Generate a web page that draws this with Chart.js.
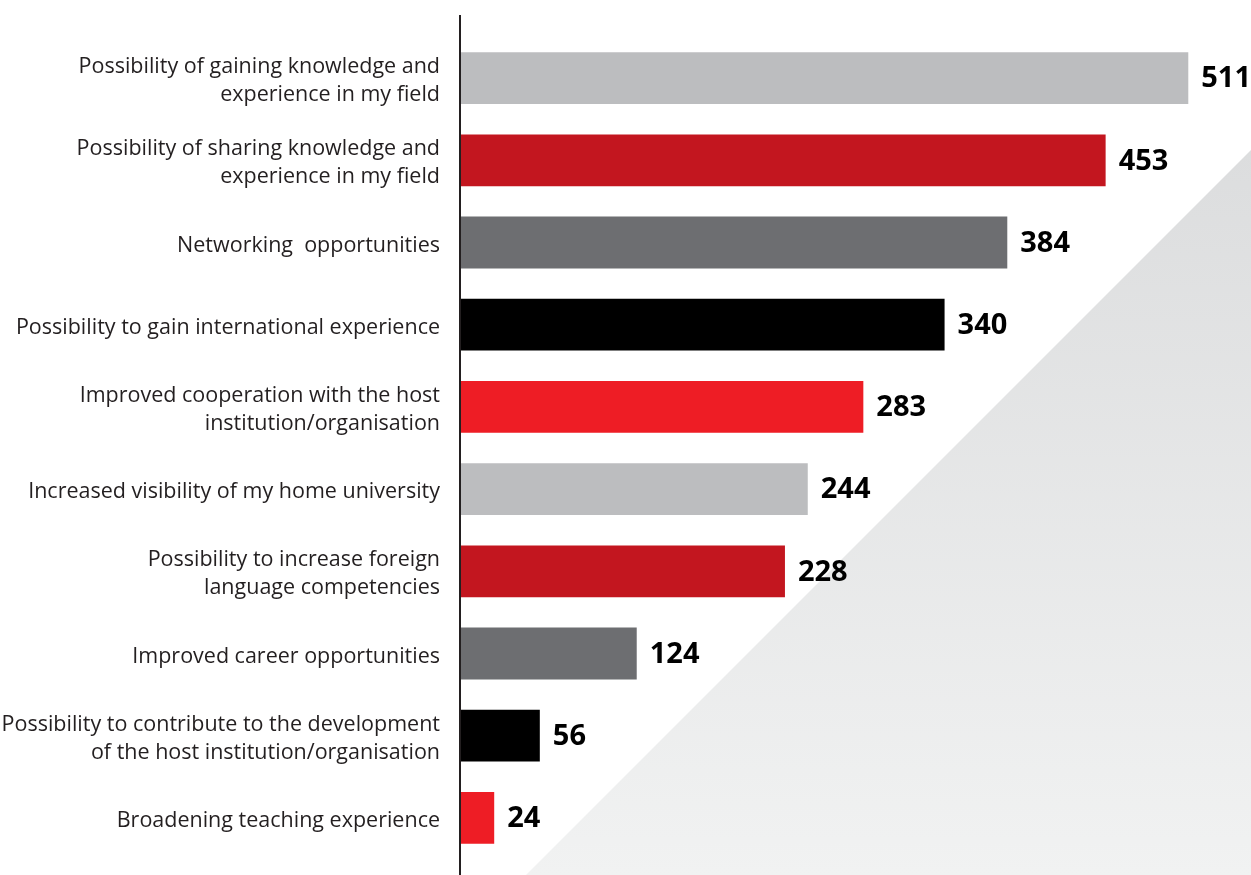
<!DOCTYPE html>
<html lang="en">
<head>
    <meta charset="UTF-8">
    <title>Motivations</title>
    <script src="https://cdn.jsdelivr.net/npm/chart.js"></script>
    <style>
        html, body {
            margin: 0;
            padding: 0;
            background: #ffffff;
        }
        #wrap {
            width: 1251px;
            height: 875px;
            position: relative;
        }
    </style>
</head>
<body>
    <div id="wrap">
        <canvas id="grafico"></canvas>
    </div>

    <script>
        const categorias = [
            ["Possibility of gaining knowledge and", "experience in my field"],
            ["Possibility of sharing knowledge and", "experience in my field"],
            "Networking  opportunities",
            "Possibility to gain international experience",
            ["Improved cooperation with the host", "institution/organisation"],
            "Increased visibility of my home university",
            ["Possibility to increase foreign", "language competencies"],
            "Improved career opportunities",
            ["Possibility to contribute to the development", "of the host institution/organisation"],
            "Broadening teaching experience"
        ];

        const valores = [511, 453, 384, 340, 283, 244, 228, 124, 56, 24];

        const colores = [
            '#bcbdbf', '#c3161f', '#6d6e71', '#000000', '#ee1d25',
            '#bcbdbf', '#c3161f', '#6d6e71', '#000000', '#ee1d25'
        ];

        // fondo: triangulo gris abajo a la derecha
        const fondoTriangulo = {
            id: 'fondoTriangulo',
            beforeDraw(chart) {
                const c = chart.ctx;
                const w = chart.width, h = chart.height;
                const g = c.createLinearGradient(0, 150, 0, h);
                g.addColorStop(0, '#dcddde');
                g.addColorStop(1, '#f1f2f2');
                c.save();
                c.fillStyle = g;
                c.beginPath();
                c.moveTo(w, 150);
                c.lineTo(w, h);
                c.lineTo(w - (h - 150), h);
                c.closePath();
                c.fill();
                c.restore();
            }
        };

        // linea del eje vertical, mas larga que el area
        const lineaEje = {
            id: 'lineaEje',
            afterDatasetsDraw(chart) {
                const c = chart.ctx;
                const x = chart.chartArea.left;
                c.save();
                c.strokeStyle = '#231f20';
                c.lineWidth = 2;
                c.beginPath();
                c.moveTo(x, 15);
                c.lineTo(x, chart.height);
                c.stroke();
                c.restore();
            }
        };

        // valores al final de cada barra
        const etiquetas = {
            id: 'etiquetas',
            afterDatasetsDraw(chart) {
                const c = chart.ctx;
                const meta = chart.getDatasetMeta(0);
                c.save();
                c.fillStyle = '#000000';
                c.font = 'bold 29px "Open Sans", sans-serif';
                c.textAlign = 'left';
                c.textBaseline = 'middle';
                meta.data.forEach((bar, i) => {
                    c.fillText(valores[i], bar.x + 13, bar.y + 1);
                });
                c.restore();
            }
        };

        const ctx = document.getElementById('grafico').getContext('2d');

        new Chart(ctx, {
            type: 'bar',
            data: {
                labels: categorias,
                datasets: [{
                    data: valores,
                    backgroundColor: colores,
                    borderWidth: 0,
                    barPercentage: 0.63,
                    categoryPercentage: 1
                }]
            },
            options: {
                indexAxis: 'y',
                responsive: true,
                maintainAspectRatio: false,
                animation: false,
                layout: {
                    padding: { top: 37, bottom: 16, left: 0, right: 0 }
                },
                scales: {
                    x: {
                        display: false,
                        min: 0,
                        max: 555
                    },
                    y: {
                        afterFit(scale) {
                            scale.width = 460;
                            // sin relleno extra por las etiquetas de arriba/abajo
                            scale.paddingTop = 0;
                            scale.paddingBottom = 0;
                        },
                        border: { display: false },
                        grid: { display: false, drawTicks: false },
                        ticks: {
                            padding: 20,
                            labelOffset: 3,
                            color: '#231f20',
                            font: { family: '"Open Sans"', size: 21.5, lineHeight: 1.3 }
                        }
                    }
                },
                plugins: {
                    legend: { display: false },
                    tooltip: { enabled: false }
                }
            },
            plugins: [fondoTriangulo, lineaEje, etiquetas]
        });
    </script>
</body>
</html>
